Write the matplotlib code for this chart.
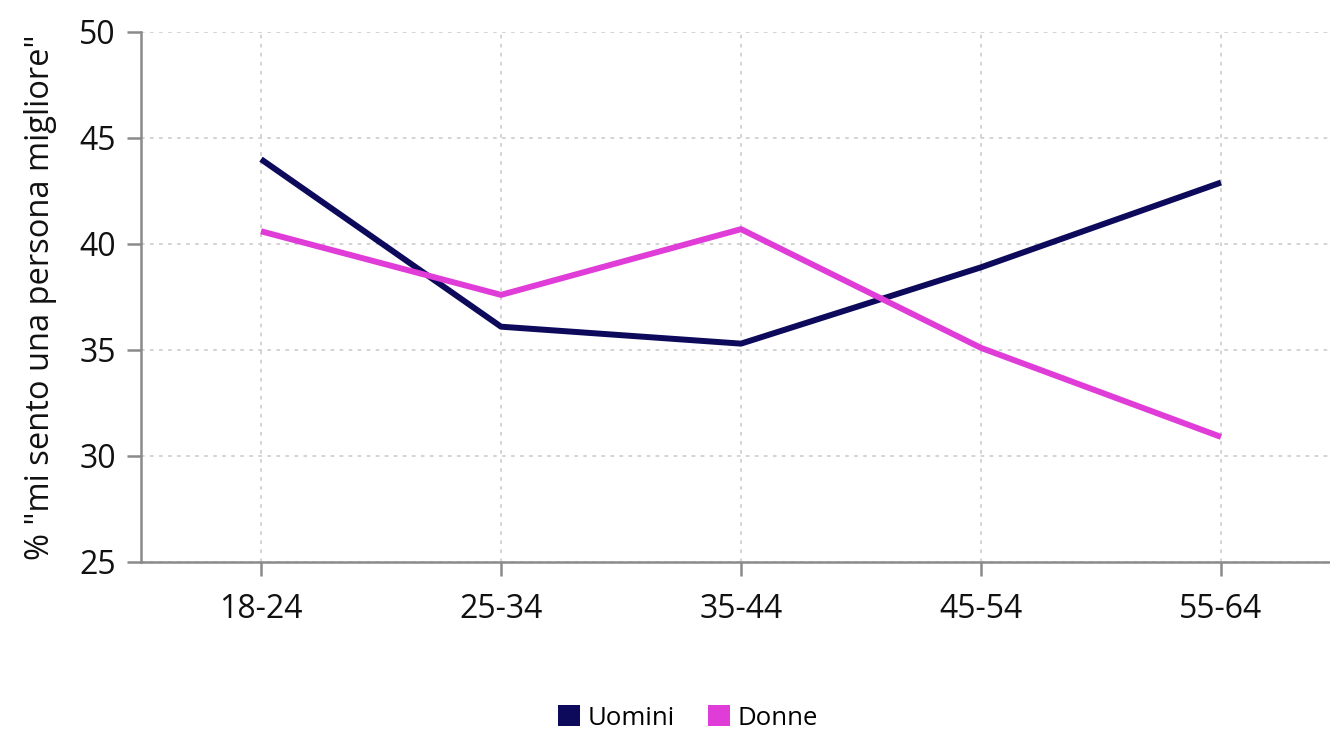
import matplotlib.pyplot as plt
from matplotlib.patches import Patch

plt.rcParams['font.family'] = ['Open Sans', 'DejaVu Sans']

# Data
eta = ['18-24', '25-34', '35-44', '45-54', '55-64']
uomini = [44.0, 36.1, 35.3, 38.9, 42.9]
donne = [40.6, 37.6, 40.7, 35.1, 30.9]
y_ticks = [25, 30, 35, 40, 45, 50]

col_u = '#0d0a5c'
col_d = '#e03cd8'
grey = '#8a8a8a'

fig = plt.figure(figsize=(13.3, 7.31), dpi=100)
ax = fig.add_axes([141/1330, 1-562/731, 1200/1330, 530/731])

x = range(len(eta))
ax.plot(x, uomini, color=col_u, linewidth=4.3, solid_capstyle='butt', zorder=3)
ax.plot(x, donne, color=col_d, linewidth=4.3, solid_capstyle='butt', zorder=3)

ax.set_xlim(-0.5, 4.5)
ax.set_ylim(25, 50)
ax.set_xticks(list(x))
ax.set_xticklabels(eta)
ax.set_yticks(y_ticks)

ax.grid(True, color='#d0d0d0', linestyle=(0, (2, 3)), linewidth=1.3)
ax.set_axisbelow(True)

for s in ['top', 'right']:
    ax.spines[s].set_visible(False)
for s in ['left', 'bottom']:
    ax.spines[s].set_color(grey)
    ax.spines[s].set_linewidth(1.8)

ax.tick_params(axis='both', colors=grey, length=10, width=1.8, labelcolor='#111111',
               labelsize=23)
ax.tick_params(axis='x', pad=12)
ax.tick_params(axis='y', pad=8)

ax.set_ylabel('% "mi sento una persona migliore"', fontsize=23.5, color='#111111', labelpad=16)

handles = [Patch(facecolor=col_u, label='Uomini'), Patch(facecolor=col_d, label='Donne')]
fig.legend(handles=handles, loc='center', bbox_to_anchor=(688/1330, 1-718/731), ncol=2,
           frameon=False, fontsize=18.5, handlelength=0.85, handleheight=0.85,
           handletextpad=0.3, columnspacing=1.3)

fig.savefig('out.png', dpi=100)
